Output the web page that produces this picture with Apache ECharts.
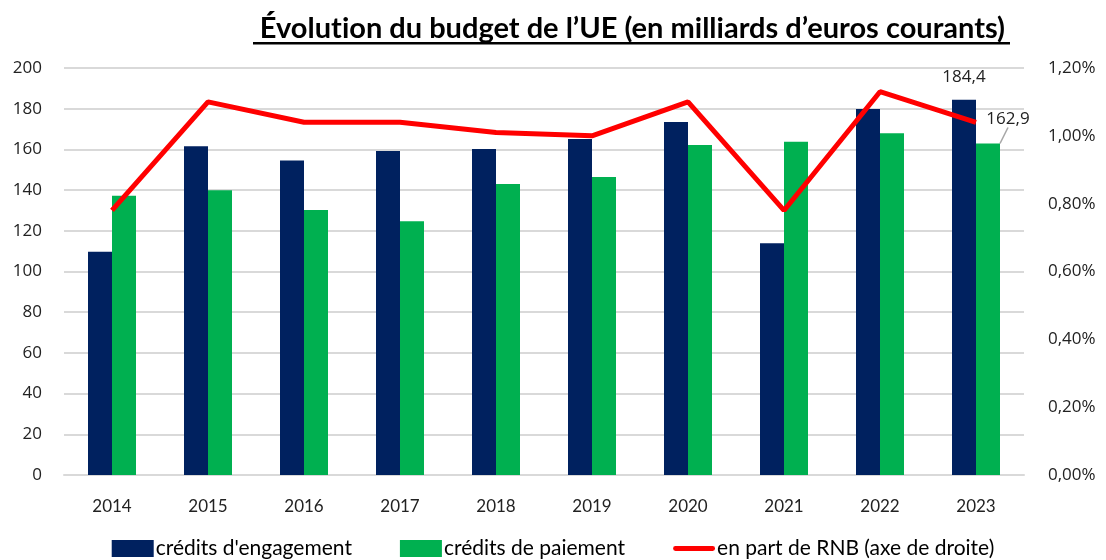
<!DOCTYPE html>
<html>
<head>
<meta charset="utf-8">
<script src="https://cdn.jsdelivr.net/npm/echarts@6/dist/echarts.min.js"></script>
<style>
  html, body { margin: 0; padding: 0; background: #fff; }
  #main { width: 1106px; height: 560px; }
</style>
</head>
<body>
<div id="main"></div>
<script>
// données
const years = ['2014', '2015', '2016', '2017', '2018', '2019', '2020', '2021', '2022', '2023'];
const creditsEngagement = [109.7, 161.5, 154.6, 159.2, 160.2, 165.1, 173.5, 113.9, 179.9, 184.4];
const creditsPaiement = [137.2, 139.9, 130.2, 124.7, 143.0, 146.4, 162.2, 163.8, 167.9, 162.9];
const partRNB = [0.78, 1.10, 1.04, 1.04, 1.01, 1.00, 1.10, 0.78, 1.13, 1.04];

const frNum = (v, d) => v.toFixed(d).replace('.', ',');
const lastIdx = years.length - 1;

const chart = echarts.init(document.getElementById('main'));
window.addEventListener('resize', function () {
  chart.resize();
});

chart.setOption({
  animation: false,
  title: {
    // \u200C : évite la ligature "ti" de Lato
    text: 'Évolut\u200Cion du budget de l\u2019UE (en milliards d\u2019euros courants)',
    right: 96,
    top: 9,
    textStyle: {
      fontFamily: 'Lato',
      fontWeight: 'bold',
      fontSize: 29,
      color: '#000'
    }
  },
  // soulignement du titre
  graphic: [
    {
      type: 'rect',
      right: 96,
      top: 42,
      shape: { width: 757, height: 2.5 },
      style: { fill: '#000' }
    }
  ],
  grid: {
    left: 64,
    right: 82,
    top: 68,
    bottom: 85
  },
  legend: {
    bottom: -4,
    left: 'center',
    itemWidth: 42,
    itemHeight: 17,
    itemGap: 48,
    textStyle: {
      fontFamily: 'Lato',
      fontSize: 21,
      color: '#000',
      padding: [0, 0, 0, -3]
    },
    data: [
      { name: 'crédits d\'engagement', icon: 'rect' },
      { name: 'crédits de paiement', icon: 'rect' },
      { name: 'en part de RNB (axe de droite)', icon: 'path://M2,0 L40,0 A2.5,2.5 0 0 1 40,5 L2,5 A2.5,2.5 0 0 1 2,0 Z' }
    ]
  },
  xAxis: {
    type: 'category',
    data: years,
    axisTick: { show: false },
    axisLine: { lineStyle: { color: '#d9d9d9', width: 2 } },
    axisLabel: {
      margin: 23,
      fontFamily: 'Lato',
      fontSize: 17,
      color: '#222'
    }
  },
  yAxis: [
    {
      type: 'value',
      min: 0,
      max: 200,
      interval: 20,
      axisLine: { show: false },
      axisTick: { show: false },
      splitLine: { lineStyle: { color: '#d9d9d9', width: 2 } },
      axisLabel: {
        margin: 22,
        fontFamily: 'Open Sans',
        fontSize: 17,
        color: '#222'
      }
    },
    {
      type: 'value',
      min: 0,
      max: 1.2,
      interval: 0.2,
      axisLine: { show: false },
      axisTick: { show: false },
      splitLine: { show: false },
      axisLabel: {
        margin: 24,
        fontFamily: 'Open Sans',
        fontSize: 17,
        color: '#222',
        formatter: v => frNum(v, 2) + '%'
      }
    }
  ],
  series: [
    {
      name: 'crédits d\'engagement',
      type: 'bar',
      barWidth: 24,
      barGap: '0%',
      itemStyle: { color: '#00215F' },
      data: creditsEngagement.map((v, i) => ({
        value: v,
        label: {
          show: i === lastIdx,
          position: 'top',
          distance: 14,
          fontFamily: 'Open Sans',
          fontSize: 17,
          color: '#222',
          formatter: p => frNum(p.value, 1)
        }
      }))
    },
    {
      name: 'crédits de paiement',
      type: 'bar',
      barWidth: 24,
      itemStyle: { color: '#00B050' },
      data: creditsPaiement.map((v, i) => ({
        value: v,
        label: {
          show: i === lastIdx,
          position: 'top',
          distance: 4,
          fontFamily: 'Open Sans',
          fontSize: 17,
          color: '#222',
          formatter: p => frNum(p.value, 1)
        }
      })),
      labelLayout: { dx: 20, dy: -12 },
      labelLine: {
        show: true,
        length2: 0,
        lineStyle: { color: '#a6a6a6', width: 1.5 }
      }
    },
    {
      name: 'en part de RNB (axe de droite)',
      type: 'line',
      yAxisIndex: 1,
      data: partRNB,
      symbol: 'none',
      itemStyle: { color: '#FF0000' },
      lineStyle: { color: '#FF0000', width: 5 },
      z: 5
    }
  ]
});
</script>
</body>
</html>
